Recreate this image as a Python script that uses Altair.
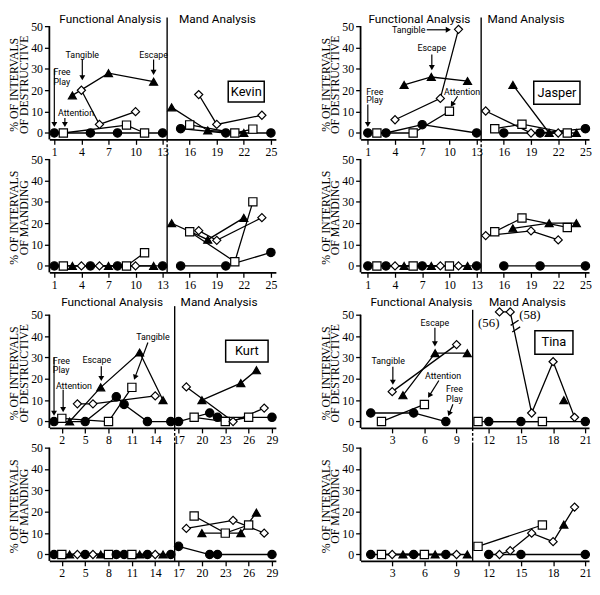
import math
import altair as alt
import pandas as pd

# ---------------- data ----------------
COND_CODES = ["FP", "AT", "TA", "ES"]          # free play, attention, tangible, escape
COND_SHAPES = ["circle", "square", "diamond", "triangle-up"]
COND_FILLS = ["black", "white", "white", "black"]
COND_SIZES = [72, 66, 105, 85]

KEVIN_CONDITIONS = ["FP", "AT", "ES", "TA", "FP", "TA", "ES", "FP", "AT", "TA", "AT", "ES", "FP",
                    "ES", "FP", "AT", "TA", "ES", "TA", "FP", "AT", "ES", "AT", "TA", "FP"]
KEVIN_DESTRUCTIVE = [0, 0, 17.6, 20, 0, 4, 28, 0, 3.7, 10, 0, 24, 0,
                     12, 2, 3.8, 18, 1.2, 4, 0, 0, 0, 1.8, 8.3, 0]
KEVIN_MANDING = [0, 0, 0, 0, 0, 0, 0, 0, 0, 0, 6.2, 0, 0,
                 20, 0, 16, 16.5, 12.3, 12, 0, 2, 22.5, 30, 22.6, 6.3]
KEVIN_PHASE_CHANGE = 13.5
KEVIN_TICKS = [1, 4, 7, 10, 13, 16, 19, 22, 25]

JASPER_CONDITIONS = ["FP", "AT", "FP", "TA", "ES", "AT", "FP", "ES", "TA", "AT", "TA", "ES", "FP",
                     "TA", "AT", "FP", "ES", "AT", "TA", "FP", "ES", "TA", "AT", "ES", "FP"]
JASPER_DESTRUCTIVE = [0, 0, 0, 6.2, 22.5, 0, 3.9, 26.2, 16.2, 10.2, 48.5, 24.3, 0,
                      10.3, 2, 0, 22.5, 4.1, 0, 0, 0, 0, 0, 0, 2]
JASPER_MANDING = [0, 0, 0, 0, 0, 0, 0, 0, 0, 0, 0, 0, 0,
                  14.2, 16, 0, 17.6, 22.4, 16.4, 0, 20, 12.2, 18, 20, 0]
JASPER_PHASE_CHANGE = 13.5
JASPER_TICKS = [1, 4, 7, 10, 13, 16, 19, 22, 25]

KURT_CONDITIONS = ["FP", "AT", "ES", "TA", "FP", "TA", "ES", "AT", "FP", "FP", "AT", "ES", "FP", "TA", "ES", "FP",
                   "FP", "TA", "AT", "ES", "FP", "FP", "AT", "TA", "ES", "AT", "ES", "TA", "FP"]
KURT_DESTRUCTIVE = [0, 1.5, 0, 8.3, 0, 8.3, 16, 0, 11.6, 8, 16, 32.3, 0, 12, 10, 0,
                    0, 16.2, 2, 10, 4, 2, 0, 0, 18, 2, 24, 6.3, 2]
KURT_MANDING = [0, 0, 0, 0, 0, 0, 0, 0, 0, 0, 0, 0, 0, 0, 0, 0,
                3.8, 12.2, 18, 10, 0, 0, 10, 16, 10, 13.8, 19.6, 10, 0]
KURT_PHASE_CHANGE = 16.5
KURT_TICKS = [2, 5, 8, 11, 14, 17, 20, 23, 26, 29]

TINA_CONDITIONS = ["FP", "AT", "TA", "ES", "FP", "AT", "ES", "FP", "TA", "ES",
                   "AT", "FP", "TA", "TA", "FP", "TA", "AT", "TA", "ES", "TA", "FP"]
TINA_DESTRUCTIVE = [4, 0, 14, 12.3, 4, 8, 32, 0, 36, 32,
                    0, 0, 56, 58, 0, 4, 0, 28, 10, 2, 0]
TINA_MANDING = [0, 0, 0, 0, 0, 0, 0, 0, 0, 0,
                3.8, 0, 0, 1.8, 0, 10, 13.8, 6, 14, 22.2, 0]
TINA_PHASE_CHANGE = 10.5
TINA_TICKS = [3, 6, 9, 12, 15, 18, 21]
TINA_AXIS_BREAK = 51.3          # values above the axis are drawn at the break

# annotation text, positions in data units (session, percent)
KEVIN_NOTES = ["Free", "Play", "Attention", "Tangible", "Escape"]
KEVIN_NOTES_X = [0.9, 0.9, 3.4, 4.1, 12.0]
KEVIN_NOTES_Y = [28.3, 23.7, 9.2, 36.7, 36.7]
KEVIN_NOTES_ALIGN = ["left", "left", "center", "center", "center"]
KEVIN_ARROWS = [(1, 30, 1, 2.4), (2.17, 7.0, 2.17, 2.4), (4.1, 34.4, 4.1, 24.3), (12.0, 34.4, 12.0, 26.8)]
KEVIN_TITLES_X = [7.2, 19.07]
KEVIN_BOX = (20.27, 24.26, 14.5, 24.2)

JASPER_NOTES = ["Free", "Play", "Attention", "Escape", "Tangible"]
JASPER_NOTES_X = [0.83, 0.83, 11.4, 8.06, 5.5]
JASPER_NOTES_Y = [19.2, 15.2, 19.2, 39.9, 48.3]
JASPER_NOTES_ALIGN = ["left", "left", "center", "center", "center"]
JASPER_ARROWS = [(1, 13.3, 1, 2.4), (10.9, 17.2, 10.1, 12.0), (8.06, 36.7, 8.06, 29.0), (7.5, 48.3, 10.25, 48.3)]
JASPER_TITLES_X = [6.69, 18.45]
JASPER_BOX = (19.3, 24.4, 13.5, 24.2)

KURT_NOTES = ["Free", "Play", "Attention", "Escape", "Tangible"]
KURT_NOTES_X = [0.85, 0.85, 3.56, 6.5, 13.7]
KURT_NOTES_Y = [28.3, 24.1, 16.8, 29.0, 39.6]
KURT_NOTES_ALIGN = ["left", "left", "center", "center", "center"]
KURT_ARROWS = [(1, 30, 1, 2.3), (2.17, 14.9, 2.17, 4.0), (7.07, 25.9, 7.07, 18.6), (13.06, 37.0, 11.25, 19.2)]
KURT_TITLES_X = [8.46, 22.2]
KURT_BOX = (23.05, 28.5, 27.9, 38.0)

TINA_NOTES = ["Escape", "Tangible", "Attention", "Free", "Play"]
TINA_NOTES_X = [6.98, 2.63, 7.74, 8.8, 8.8]
TINA_NOTES_Y = [46.2, 28.3, 21.3, 15.0, 10.4]
TINA_NOTES_ALIGN = ["center", "center", "center", "center", "center"]
TINA_ARROWS = [(6.98, 43.9, 6.98, 34.8), (3.06, 25.6, 3.06, 16.8), (7.35, 19.2, 6.3, 10.8), (8.66, 8.1, 8.2, 2.2)]
TINA_TITLES_X = [5.72, 15.6]
TINA_BOX = (16.3, 19.85, 31.5, 42.5)
TINA_VALUE_LABELS = ["(56)", "(58)"]
TINA_VALUE_LABELS_X = [12.0, 15.84]
TINA_VALUE_LABELS_Y = [46.2, 49.9]
TINA_BREAK_MARKS = [(14.04, 45.0, 14.78, 47.4), (14.19, 41.9, 14.93, 44.3)]

# ---------------- layout / style ----------------
BASE_H = 115
Y_MIN = -3
Y_TICKS = [0, 10, 20, 30, 40, 50]
SANS = "Roboto"
SERIF = "Liberation Serif"
HEAD_SIZE = 36
HEAD_BACK = 3.4
PX_PER_UNIT = BASE_H / (50 - Y_MIN)
ROW1_TITLE_Y = 53.4
ROW2_TITLE_Y = 55.9


def session_frame(conds, values, phase, cap=None):
    rows = []
    for i, (c, val) in enumerate(zip(conds, values)):
        s = i + 1
        ph = "FA" if s < phase else "MA"
        v = val if cap is None else min(val, cap)
        rows.append(dict(session=s, v=v, cond=c, seg=c + ph))
    return pd.DataFrame(rows)


def panel(df, xdom, width, ticks, phase, ytitle, rule_top, dashed, ytop=50,
          notes=None, arrows=None, box=None, name=None, titles_x=None, title_y=None,
          serif_labels=None, breaks=None):
    height = BASE_H + (ytop - 50) * PX_PER_UNIT
    sx = width / (xdom[1] - xdom[0])
    sy = PX_PER_UNIT
    title_center = (ytop - 50) * PX_PER_UNIT + 59
    X = alt.X("session:Q", scale=alt.Scale(domain=xdom, nice=False, zero=False),
              axis=alt.Axis(values=ticks, title=None, format="d"))
    Y = alt.Y("v:Q", scale=alt.Scale(domain=[Y_MIN, ytop], nice=False, zero=False),
              axis=alt.Axis(values=Y_TICKS, title=ytitle, format="d", titlePadding=0,
                            domain=False, titleY=title_center))
    layers = []
    # y axis line (only up to 50)
    layers.append(alt.Chart(pd.DataFrame({"session": [xdom[0]], "v": [50],
                                          "session2": [xdom[0]], "v2": [Y_MIN]}))
                  .mark_rule(color="black", strokeWidth=1.8)
                  .encode(x=X, y=Y, x2="session2:Q", y2="v2:Q"))
    layers.append(alt.Chart(pd.DataFrame({"session": [phase], "v": [rule_top],
                                          "session2": [phase], "v2": [Y_MIN]}))
                  .mark_rule(color="black", strokeWidth=1.4)
                  .encode(x=X, y=Y, x2="session2:Q", y2="v2:Q"))
    if dashed:
        layers.append(alt.Chart(pd.DataFrame({"session": [phase], "v": [Y_MIN],
                                              "session2": [phase], "v2": [Y_MIN - 6.6]}))
                      .mark_rule(color="black", strokeWidth=1.4, strokeDash=[3, 2])
                      .encode(x=X, y=Y, x2="session2:Q", y2="v2:Q"))
    layers.append(alt.Chart(df).mark_line(color="black", strokeWidth=1.3)
                  .encode(x=X, y=Y, detail="seg:N", order="session:Q"))
    if breaks:
        bd = pd.DataFrame([dict(session=a, v=b, session2=c, v2=d) for a, b, c, d in breaks])
        layers.append(alt.Chart(bd).mark_rule(color="black", strokeWidth=1.3)
                      .encode(x=X, y=Y, x2="session2:Q", y2="v2:Q"))
    layers.append(alt.Chart(df).mark_point(filled=True, stroke="black", strokeWidth=1.2,
                                           opacity=1, fillOpacity=1)
                  .encode(x=X, y=Y,
                          shape=alt.Shape("cond:N", scale=alt.Scale(domain=COND_CODES, range=COND_SHAPES), legend=None),
                          fill=alt.Fill("cond:N", scale=alt.Scale(domain=COND_CODES, range=COND_FILLS), legend=None),
                          size=alt.Size("cond:N", scale=alt.Scale(domain=COND_CODES, range=COND_SIZES), legend=None)))
    if arrows:
        rrows, hrows = [], []
        for x0, y0, x1, y1 in arrows:
            dxp = (x1 - x0) * sx
            dyp = -(y1 - y0) * sy
            L = math.hypot(dxp, dyp)
            ux, uy = dxp / L, dyp / L
            hx = x1 - ux * HEAD_BACK / sx
            hy = y1 + uy * HEAD_BACK / sy
            ang = math.degrees(math.atan2(ux, -uy)) % 360
            rrows.append(dict(session=x0, v=y0, session2=hx, v2=hy))
            hrows.append(dict(session=hx, v=hy, angle=ang))
        layers.append(alt.Chart(pd.DataFrame(rrows)).mark_rule(color="black", strokeWidth=1.2)
                      .encode(x=X, y=Y, x2="session2:Q", y2="v2:Q"))
        layers.append(alt.Chart(pd.DataFrame(hrows))
                      .mark_point(shape="triangle-up", filled=True, color="black", size=HEAD_SIZE, opacity=1)
                      .encode(x=X, y=Y, angle=alt.Angle("angle:Q", scale=None)))
    if box:
        bd = pd.DataFrame({"session": [box[0]], "session2": [box[1]], "v": [box[2]], "v2": [box[3]]})
        layers.append(alt.Chart(bd).mark_rect(fill="white", stroke="black", strokeWidth=1.5)
                      .encode(x=X, y=Y, x2="session2:Q", y2="v2:Q"))
        nd = pd.DataFrame({"session": [(box[0] + box[1]) / 2], "v": [(box[2] + box[3]) / 2], "label": [name]})
        layers.append(alt.Chart(nd).mark_text(font=SANS, fontSize=13, color="black", baseline="middle")
                      .encode(x=X, y=Y, text="label:N"))
    if notes:
        texts, xs, ys, aligns = notes
        for al in ["left", "center"]:
            sel = [i for i, a in enumerate(aligns) if a == al]
            if not sel:
                continue
            nd = pd.DataFrame({"session": [xs[i] for i in sel], "v": [ys[i] for i in sel],
                               "label": [texts[i] for i in sel]})
            layers.append(alt.Chart(nd).mark_text(font=SANS, fontSize=9, color="black",
                                                  align=al, baseline="middle")
                          .encode(x=X, y=Y, text="label:N"))
    if titles_x:
        nd = pd.DataFrame({"session": titles_x, "v": [title_y, title_y],
                           "label": ["Functional Analysis", "Mand Analysis"]})
        layers.append(alt.Chart(nd).mark_text(font=SANS, fontSize=12, color="black", baseline="middle")
                      .encode(x=X, y=Y, text="label:N"))
    if serif_labels:
        texts, xs, ys = serif_labels
        nd = pd.DataFrame({"session": xs, "v": ys, "label": texts})
        layers.append(alt.Chart(nd).mark_text(font=SERIF, fontSize=13, color="black", baseline="middle")
                      .encode(x=X, y=Y, text="label:N"))
    return alt.layer(*layers).properties(width=width, height=height)


DEST_TITLE = ["% OF INTERVALS", "OF DESTRUCTIVE"]
MAND_TITLE = ["% OF INTERVALS", "OF MANDING"]

LEFT_W = 230
RIGHT_W = 232
ROW2_TOP = 60.6     # extra headroom above the 50 line for the second row of people

panels = [
    panel(session_frame(KEVIN_CONDITIONS, KEVIN_DESTRUCTIVE, KEVIN_PHASE_CHANGE), [0.45, 25.55], LEFT_W,
          KEVIN_TICKS, KEVIN_PHASE_CHANGE, DEST_TITLE, 54.0, True,
          notes=(KEVIN_NOTES, KEVIN_NOTES_X, KEVIN_NOTES_Y, KEVIN_NOTES_ALIGN), arrows=KEVIN_ARROWS,
          box=KEVIN_BOX, name="Kevin", titles_x=KEVIN_TITLES_X, title_y=ROW1_TITLE_Y),
    panel(session_frame(JASPER_CONDITIONS, JASPER_DESTRUCTIVE, JASPER_PHASE_CHANGE), [0.2, 25.4], RIGHT_W,
          JASPER_TICKS, JASPER_PHASE_CHANGE, DEST_TITLE, 54.0, True,
          notes=(JASPER_NOTES, JASPER_NOTES_X, JASPER_NOTES_Y, JASPER_NOTES_ALIGN), arrows=JASPER_ARROWS,
          box=JASPER_BOX, name="Jasper", titles_x=JASPER_TITLES_X, title_y=ROW1_TITLE_Y),
    panel(session_frame(KEVIN_CONDITIONS, KEVIN_MANDING, KEVIN_PHASE_CHANGE), [0.45, 25.55], LEFT_W,
          KEVIN_TICKS, KEVIN_PHASE_CHANGE, MAND_TITLE, 52.4, False),
    panel(session_frame(JASPER_CONDITIONS, JASPER_MANDING, JASPER_PHASE_CHANGE), [0.2, 25.4], RIGHT_W,
          JASPER_TICKS, JASPER_PHASE_CHANGE, MAND_TITLE, 52.4, False),
    panel(session_frame(KURT_CONDITIONS, KURT_DESTRUCTIVE, KURT_PHASE_CHANGE), [0.4, 29.5], LEFT_W,
          KURT_TICKS, KURT_PHASE_CHANGE, DEST_TITLE, 54.0, True, ytop=ROW2_TOP,
          notes=(KURT_NOTES, KURT_NOTES_X, KURT_NOTES_Y, KURT_NOTES_ALIGN), arrows=KURT_ARROWS,
          box=KURT_BOX, name="Kurt", titles_x=KURT_TITLES_X, title_y=ROW2_TITLE_Y),
    panel(session_frame(TINA_CONDITIONS, TINA_DESTRUCTIVE, TINA_PHASE_CHANGE, cap=TINA_AXIS_BREAK),
          [0.05, 21.35], RIGHT_W, TINA_TICKS, TINA_PHASE_CHANGE, DEST_TITLE, 52.3, True, ytop=ROW2_TOP,
          notes=(TINA_NOTES, TINA_NOTES_X, TINA_NOTES_Y, TINA_NOTES_ALIGN), arrows=TINA_ARROWS,
          box=TINA_BOX, name="Tina", titles_x=TINA_TITLES_X, title_y=ROW2_TITLE_Y,
          serif_labels=(TINA_VALUE_LABELS, TINA_VALUE_LABELS_X, TINA_VALUE_LABELS_Y),
          breaks=TINA_BREAK_MARKS),
    panel(session_frame(KURT_CONDITIONS, KURT_MANDING, KURT_PHASE_CHANGE), [0.4, 29.5], LEFT_W,
          KURT_TICKS, KURT_PHASE_CHANGE, MAND_TITLE, 52.4, False),
    panel(session_frame(TINA_CONDITIONS, TINA_MANDING, TINA_PHASE_CHANGE), [0.05, 21.35], RIGHT_W,
          TINA_TICKS, TINA_PHASE_CHANGE, MAND_TITLE, 52.4, False),
]

chart = (
    alt.concat(*panels, columns=2, spacing={"row": 20, "column": 86}, bounds="flush", align="each")
    .resolve_scale(x="independent", y="independent")
    .properties(padding=0, background="white")
    .configure_view(stroke=None)
    .configure_axis(domainColor="black", domainWidth=1.8, tickColor="black", tickWidth=1.3,
                    tickSize=5, labelFont=SERIF, labelFontSize=12, labelColor="black",
                    titleFont=SERIF, titleFontSize=12, titleFontWeight="normal", titleColor="black",
                    titleLineHeight=10, grid=False, labelFlush=False, labelOverlap=False,
                    labelPadding=2, labelBound=False)
)

chart.save("out.html", embed_options={"renderer": "svg", "actions": False})
